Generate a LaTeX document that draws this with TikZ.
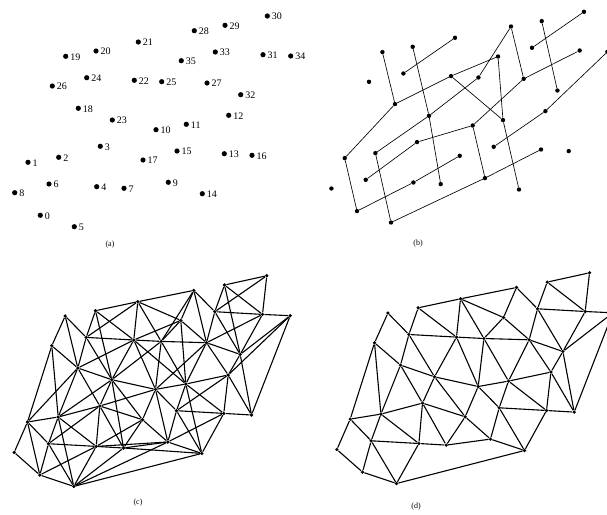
\documentclass[tikz,border=0pt]{standalone}
\usepackage{fontspec}
\setmainfont{Liberation Serif}
\begin{document}
\begin{tikzpicture}[x=1pt,y=-1pt,
  dota/.style={circle,fill=black,inner sep=0pt,minimum size=5.2pt},
  dotb/.style={circle,fill=black,inner sep=0pt,minimum size=4.4pt},
  dotc/.style={circle,fill=black,inner sep=0pt,minimum size=3.6pt},
  edgeb/.style={line width=0.65pt},
  edgec/.style={line width=1.1pt},
  lbl/.style={font=\fontsize{10}{12}\selectfont,inner sep=0pt},
  captxt/.style={font=\fontsize{8}{9}\selectfont,inner sep=0pt}]
\useasboundingbox (0,0) rectangle (607,514);
\clip (0,0) rectangle (607,514);
\def\pts{0/40.3/215.3, 1/28/162.3, 2/58.7/157.3, 3/100.3/146.3, 4/96.7/186.7, 5/74.3/226.7, 6/49/184, 7/124/188.3, 8/14.7/192.7, 9/168.3/182.3, 10/156/129.7, 11/186.3/124.3, 12/228.7/115.3, 13/224.3/153.7, 14/202.3/193.7, 15/177/151, 16/252/155.3, 17/143/160, 18/78.3/108.3, 19/65.7/56.3, 20/96/51, 21/138.3/42, 22/134.3/80.3, 23/112.3/120, 24/86.7/77.7, 25/161.7/81.7, 26/52.3/86, 27/207/83, 28/194.3/30.7, 29/225/25.3, 30/267.3/16, 31/263/54.7, 32/240.7/94.7, 33/215.3/52, 34/290.7/56, 35/181.3/60.7}
\def\edgesB{30/33, 29/32, 28/25, 28/27, 21/24, 20/23, 23/7, 19/18, 18/22, 22/35, 22/11, 35/11, 11/14, 25/23, 23/2, 27/31, 27/10, 10/3, 10/9, 3/6, 2/5, 18/1, 1/0, 0/4, 4/17, 5/9, 9/13, 34/12, 12/15}
\def\edgesD{19/24, 19/26, 26/1, 26/2, 26/18, 20/24, 20/21, 20/22, 21/22, 21/28, 21/35, 21/25, 28/35, 28/33, 29/30, 29/33, 29/31, 30/31, 33/31, 31/34, 31/32, 33/32, 33/27, 35/25, 35/27, 25/27, 22/25, 25/10, 25/11, 27/11, 27/32, 27/12, 32/12, 32/34, 32/16, 34/16, 12/11, 12/13, 12/16, 13/16, 11/10, 11/15, 11/13, 15/13, 15/10, 15/9, 15/14, 13/14, 9/14, 9/17, 10/17, 5/14, 7/9, 22/10, 22/24, 22/23, 23/10, 23/17, 23/3, 23/18, 18/24, 24/23, 18/2, 18/3, 3/2, 3/17, 3/4, 3/7, 2/1, 2/6, 2/4, 1/8, 1/6, 8/0, 0/6, 0/5, 6/4, 6/5, 4/5, 4/7, 7/17}
\def\edgesX{5/7, 7/14, 4/9}
% (a)
\foreach \n/\x/\y in \pts {
  \node[dota,label={[lbl,label distance=1.6pt,yshift=-0.6pt]0:\n}] (a\n) at (\x,\y) {};
}
\node[captxt] (capa) at (110,245) {(a)};
% (b)
\begin{scope}[shift={(316.7,-4.2)}]
\foreach \n/\x/\y in \pts { \node[dotb] (b\n) at (\x,\y) {}; }
\foreach \u/\v in \edgesB { \draw[edgeb] (b\u) -- (b\v); }
\end{scope}
\node[captxt] (capb) at (418,244) {(b)};
% (c)
\begin{scope}[shift={(-0.5,259.7)}]
\foreach \n/\x/\y in \pts { \node[dotc] (c\n) at (\x,\y) {}; }
\foreach \u/\v in \edgesD { \draw[edgec] (c\u) -- (c\v); }
\foreach \u/\v in \edgesB { \draw[edgec] (c\u) -- (c\v); }
\foreach \u/\v in \edgesX { \draw[edgec] (c\u) -- (c\v); }
\end{scope}
\node[captxt] (capc) at (138,503) {(c)};
% (d)
\begin{scope}[shift={(322.2,256.8)}]
\foreach \n/\x/\y in \pts { \node[dotc] (d\n) at (\x,\y) {}; }
\foreach \u/\v in \edgesD { \draw[edgec] (d\u) -- (d\v); }
\end{scope}
\node[captxt] (capd) at (416,507) {(d)};
\end{tikzpicture}
\end{document}
